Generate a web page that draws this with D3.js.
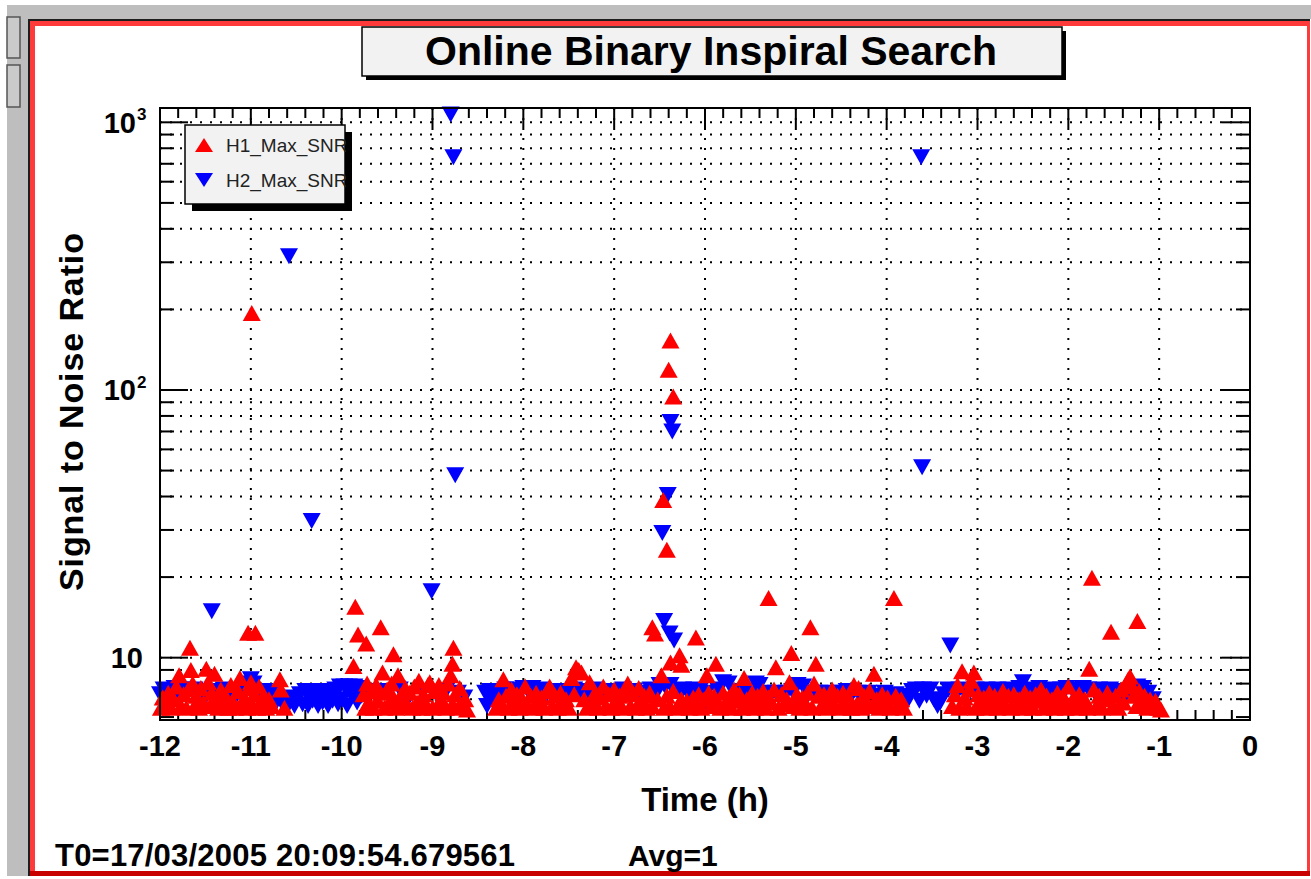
<!DOCTYPE html>
<html>
<head>
<meta charset="utf-8">
<script src="https://d3js.org/d3.v7.min.js"></script>
<style>
body { margin: 0; background: #fff; }
text { font-family: "Liberation Sans", Arial, Helvetica, sans-serif; }
</style>
</head>
<body>
<div id="chart"></div>
<script>
/* globals d3: false */

var W = 1311, H = 879;

// axis ticks and labels
var xTicks = [-12, -11, -10, -9, -8, -7, -6, -5, -4, -3, -2, -1, 0];
var yMajor = [10, 100, 1000];
var yExp = ["", "2", "3"];

var titleText = "Online Binary Inspiral Search";
var xTitle = "Time (h)";
var yTitle = "Signal to Noise Ratio";
var t0Text = "T0=17/03/2005 20:09:54.679561";
var avgText = "Avg=1";
var seriesNames = ["H1_Max_SNR", "H2_Max_SNR"];

// H1 (red, up triangles): isolated high points
var h1Peaks = [[-10.99,194],[-11.03,12.4],[-10.95,12.4],[-11.67,10.9],[-9.85,15.5],[-9.82,12.2],
	[-9.73,11.3],[-9.87,9.3],[-9.57,13.0],[-9.43,10.3],[-8.77,10.9],[-8.78,9.5],[-6.38,153],
	[-6.40,119],[-6.35,94.5],[-6.46,38.8],[-6.42,25.3],[-6.58,13.0],[-6.55,12.3],[-6.10,11.9],
	[-6.38,9.6],[-6.28,10.2],[-6.26,9.4],[-5.30,16.7],[-5.22,9.2],[-5.05,10.4],[-4.84,13.0],
	[-4.78,9.5],[-4.14,8.7],[-3.92,16.7],[-1.74,19.9],[-1.77,9.1],[-1.53,12.5],[-1.24,13.7]];

// H1 dense band near the floor
var h1Band = [
	[-11.99,6.5],[-11.97,7.1],[-11.94,6.7],[-11.91,7.4],[-11.88,6.5],[-11.85,7.0],[-11.82,7.8],[-11.79,8.6],
	[-11.77,6.6],[-11.74,7.3],[-11.71,6.5],[-11.69,7.6],[-11.66,9.0],[-11.64,8.0],[-11.62,6.6],[-11.60,7.2],
	[-11.57,6.5],[-11.55,7.7],[-11.52,6.8],[-11.49,9.1],[-11.47,8.1],[-11.45,6.6],[-11.43,7.4],[-11.40,8.7],
	[-11.38,7.0],[-11.36,6.5],[-11.33,7.6],[-11.30,6.6],[-11.28,7.2],[-11.25,6.5],[-11.22,7.9],[-11.20,6.9],
	[-11.17,6.5],[-11.14,7.5],[-11.12,8.4],[-11.10,6.6],[-11.07,7.1],[-11.04,6.5],[-11.02,7.7],[-11.00,8.1],
	[-10.98,6.6],[-10.96,7.3],[-10.93,6.5],[-10.91,7.8],[-10.88,6.7],[-10.86,7.2],[-10.83,6.5],[-10.80,7.0],
	[-10.77,6.6],[-10.68,8.3],[-10.67,7.6],[-10.63,6.5],
	[-9.76,7.3],[-9.74,6.5],[-9.72,8.0],[-9.70,6.8],[-9.67,7.5],[-9.65,6.5],[-9.62,7.9],[-9.60,6.9],
	[-9.57,7.4],[-9.55,8.8],[-9.53,6.5],[-9.50,7.6],[-9.48,6.8],[-9.45,8.0],[-9.43,7.1],[-9.40,6.5],
	[-9.38,8.6],[-9.35,7.2],[-9.33,6.6],[-9.30,7.7],[-9.27,6.6],[-9.25,7.4],[-9.22,6.5],[-9.20,7.8],
	[-9.17,6.8],[-9.15,8.2],[-9.12,6.5],[-9.10,7.3],[-9.07,6.7],[-9.05,7.9],[-9.03,8.1],[-9.00,6.5],
	[-8.98,7.5],[-8.95,6.6],[-8.93,7.9],[-8.90,6.9],[-8.88,7.4],[-8.85,6.5],[-8.83,8.0],[-8.80,8.6],
	[-8.78,6.7],[-8.75,7.3],[-8.72,6.5],[-8.70,7.7],[-8.67,6.6],[-8.64,7.0],[-8.62,6.4],
	[-8.30,6.5],[-8.27,7.0],[-8.24,6.6],[-8.22,8.3],[-8.19,7.2],[-8.16,6.5],[-8.13,7.6],[-8.10,6.7],
	[-8.07,7.3],[-8.04,6.5],[-8.01,7.0],[-7.98,7.8],[-7.95,6.6],[-7.92,7.2],[-7.89,6.5],[-7.86,7.4],
	[-7.83,6.8],[-7.80,7.1],[-7.77,6.5],[-7.74,7.5],[-7.71,7.8],[-7.68,6.6],[-7.65,7.2],[-7.62,6.5],
	[-7.59,7.4],[-7.56,6.8],[-7.53,7.0],[-7.50,6.5],[-7.47,8.4],[-7.44,7.3],[-7.42,9.2],[-7.39,9.0],
	[-7.36,8.8],[-7.33,7.0],[-7.30,6.5],[-7.27,8.1],[-7.24,6.7],[-7.21,7.4],[-7.18,6.5],[-7.15,7.1],
	[-7.12,7.8],[-7.09,6.6],[-7.06,7.3],[-7.03,6.5],[-7.00,7.6],[-6.97,6.8],[-6.94,7.2],[-6.91,6.5],
	[-6.88,7.5],[-6.85,8.0],[-6.82,6.6],[-6.79,7.3],[-6.76,6.5],[-6.73,7.7],[-6.70,6.8],[-6.67,7.2],
	[-6.64,6.5],[-6.61,7.4],[-6.58,6.6],
	[-6.52,7.0],[-6.48,8.6],[-6.45,6.5],[-6.42,7.2],[-6.39,6.6],[-6.35,7.5],[-6.31,6.5],[-6.26,7.0],
	[-6.23,6.6],[-6.20,6.9],[-6.17,6.5],[-6.13,7.1],[-6.10,6.6],[-6.07,7.3],[-6.04,6.5],[-6.01,7.0],
	[-5.98,8.6],[-5.96,7.4],[-5.93,6.6],[-5.90,7.2],[-5.88,9.5],[-5.86,6.8],[-5.83,6.5],[-5.80,7.4],
	[-5.77,6.6],[-5.74,7.1],[-5.71,6.5],[-5.68,7.6],[-5.65,6.9],[-5.62,7.3],[-5.59,6.5],[-5.57,8.4],
	[-5.54,7.0],[-5.51,6.6],[-5.48,7.4],[-5.45,6.5],[-5.42,7.2],[-5.39,6.7],[-5.36,7.5],[-5.33,6.5],
	[-5.30,7.1],[-5.27,6.8],[-5.24,7.6],[-5.19,6.5],[-5.16,7.3],[-5.13,6.7],[-5.10,7.0],[-5.07,8.1],
	[-5.02,6.6],[-4.99,7.3],[-4.96,6.5],[-4.93,7.1],[-4.90,6.7],[-4.87,7.4],[-4.82,6.5],[-4.80,8.0],
	[-4.75,7.2],[-4.72,6.6],[-4.69,7.3],[-4.66,6.5],[-4.63,7.0],[-4.60,7.6],[-4.57,6.6],[-4.54,7.2],
	[-4.51,6.5],[-4.48,7.4],[-4.45,6.8],[-4.42,7.1],[-4.39,6.5],[-4.36,7.9],[-4.33,6.7],[-4.31,7.7],
	[-4.28,6.5],[-4.25,7.2],[-4.22,6.8],[-4.19,7.5],[-4.16,6.6],[-4.11,7.0],[-4.08,6.5],[-4.05,7.3],
	[-4.02,6.7],[-3.99,7.1],[-3.96,6.5],[-3.90,7.2],[-3.87,6.6],[-3.84,7.0],[-3.81,6.5],
	[-3.28,6.6],[-3.25,7.3],[-3.22,7.9],[-3.20,6.5],[-3.17,8.9],[-3.14,7.1],[-3.12,6.6],[-3.09,7.6],
	[-3.07,8.2],[-3.04,8.8],[-3.02,6.5],[-2.99,7.3],[-2.96,6.7],[-2.93,7.1],[-2.90,6.5],[-2.87,7.4],
	[-2.84,6.8],[-2.81,7.2],[-2.78,6.5],[-2.75,7.0],[-2.72,7.5],[-2.69,6.6],[-2.66,7.2],[-2.63,6.5],
	[-2.60,7.3],[-2.57,6.8],[-2.54,7.0],[-2.51,6.5],[-2.48,7.4],[-2.45,6.7],[-2.42,7.1],[-2.39,6.5],
	[-2.36,7.3],[-2.33,6.9],[-2.30,7.6],[-2.27,6.5],[-2.24,7.2],[-2.21,6.7],[-2.18,7.0],[-2.15,6.5],
	[-2.12,7.4],[-2.09,6.8],[-2.06,7.2],[-2.03,6.5],[-2.00,7.8],[-1.97,6.6],[-1.94,7.1],[-1.91,6.5],
	[-1.88,7.3],[-1.85,6.8],[-1.82,7.0],[-1.79,6.5],[-1.72,7.6],[-1.69,6.6],[-1.66,7.2],[-1.63,6.5],
	[-1.60,7.0],[-1.57,7.4],[-1.51,6.6],[-1.48,7.2],[-1.45,6.5],[-1.42,7.6],[-1.39,6.8],[-1.36,7.9],
	[-1.34,8.3],[-1.32,8.5],[-1.30,7.8],[-1.28,7.2],[-1.25,6.6],[-1.22,7.5],[-1.19,6.8],[-1.16,7.2],
	[-1.13,6.5],[-1.10,7.0],[-1.07,6.6],[-1.04,6.9],[-1.01,6.5],[-0.98,6.4]];

// H2 (blue, down triangles): isolated high points
var h2Peaks = [[-11.43,14.9],[-11.00,8.3],[-10.58,316],[-10.33,32.4],[-9.01,17.7],[-8.80,1070],
	[-8.77,741],[-8.75,48],[-6.47,29.2],[-6.41,40.5],[-6.38,76],[-6.36,70],[-6.45,13.7],
	[-6.39,12.3],[-6.34,11.6],[-3.62,741],[-3.61,51.5],[-3.30,11.1],[-2.50,8.1]];

// H2 dense band near the floor
var h2Band = [
	[-12.00,7.3],[-11.96,7.6],[-11.92,7.0],[-11.88,7.5],[-11.84,7.7],[-11.80,7.2],[-11.76,7.6],[-11.70,7.4],
	[-11.62,7.6],[-11.55,7.5],[-11.50,7.1],[-11.40,7.5],[-11.35,7.3],[-11.30,7.6],[-11.26,7.4],[-11.20,7.0],
	[-11.15,7.3],[-11.08,7.6],[-11.05,8.0],[-10.97,8.0],[-10.92,7.2],[-10.88,7.0],[-10.85,7.5],[-10.80,7.4],
	[-10.76,7.3],[-10.72,6.8],
	[-10.66,6.9],[-10.64,6.6],[-10.61,7.0],[-10.58,6.7],[-10.55,7.1],[-10.52,6.6],[-10.49,7.0],[-10.46,7.3],
	[-10.43,6.7],[-10.40,7.5],[-10.37,6.6],[-10.35,7.4],[-10.32,6.9],[-10.29,7.5],[-10.26,6.6],[-10.24,7.4],
	[-10.21,6.8],[-10.18,7.5],[-10.15,6.6],[-10.12,7.5],[-10.10,6.9],[-10.07,7.6],[-10.04,6.7],[-10.02,7.8],
	[-9.99,7.0],[-9.97,7.8],[-9.94,6.6],[-9.92,7.8],[-9.89,7.2],[-9.86,7.8],[-9.83,6.8],[-9.81,7.7],
	[-9.78,7.2],
	[-9.70,7.5],[-9.62,7.3],[-9.50,7.5],[-9.36,7.6],[-9.25,7.2],[-9.10,7.5],[-8.96,7.3],[-8.85,7.5],
	[-8.72,7.4],[-8.65,7.1],
	[-8.42,7.4],[-8.40,6.6],[-8.37,7.5],[-8.34,6.9],[-8.30,7.5],[-8.27,6.6],[-8.24,7.3],[-8.20,7.6],
	[-8.15,7.1],[-8.10,7.6],[-8.05,7.4],[-8.00,7.7],[-7.95,7.5],[-7.90,7.7],[-7.85,7.5],[-7.80,7.6],
	[-7.74,7.3],[-7.68,7.5],[-7.62,7.2],[-7.56,7.5],[-7.50,7.3],[-7.44,7.6],[-7.38,7.4],[-7.32,7.5],
	[-7.26,7.2],[-7.20,7.6],[-7.14,7.4],[-7.08,7.3],[-7.02,7.5],[-6.96,7.4],[-6.90,7.6],[-6.84,7.3],
	[-6.78,7.5],[-6.72,7.2],[-6.66,7.4],[-6.60,7.6],[-6.54,7.3],[-6.50,7.9],[-6.44,7.8],[-6.38,7.9],
	[-6.30,7.5],[-6.24,7.6],[-6.18,7.3],[-6.12,7.6],[-6.06,7.5],[-6.02,6.6],
	[-5.98,7.4],[-5.92,6.8],[-5.86,7.6],[-5.80,8.1],[-5.74,8.0],[-5.68,7.5],[-5.62,7.3],[-5.56,7.5],
	[-5.50,7.3],[-5.44,8.0],[-5.40,7.9],[-5.34,7.4],[-5.28,7.2],[-5.22,7.4],[-5.16,7.3],[-5.10,7.4],
	[-5.04,7.5],[-4.98,7.9],[-4.92,7.8],[-4.86,7.3],[-4.80,7.4],[-4.74,7.4],[-4.68,7.3],[-4.62,7.4],
	[-4.56,7.3],[-4.50,7.4],[-4.44,7.5],[-4.38,7.3],[-4.32,7.4],[-4.26,7.2],[-4.20,7.4],[-4.14,7.2],
	[-4.08,7.0],[-4.02,7.4],[-3.96,7.2],[-3.90,7.3],[-3.84,7.2],[-3.80,6.6],[-3.76,7.1],[-3.72,7.5],
	[-3.68,7.6],[-3.64,6.9],[-3.60,7.6],[-3.56,7.2],[-3.52,7.6],[-3.48,7.0],[-3.44,6.6],[-3.41,6.8],
	[-3.37,7.3],[-3.32,7.6],[-3.26,7.5],[-3.20,7.6],[-3.14,7.4],[-3.08,7.5],[-3.02,7.6],[-2.96,7.5],
	[-2.90,7.6],[-2.84,7.4],[-2.78,7.6],[-2.72,7.5],[-2.66,7.6],[-2.60,7.5],[-2.54,7.7],[-2.44,7.6],
	[-2.38,7.5],[-2.32,7.7],[-2.26,7.5],[-2.20,7.6],[-2.14,7.4],[-2.08,7.6],[-2.02,7.7],[-1.96,7.6],
	[-1.90,7.5],[-1.84,7.7],[-1.78,7.6],[-1.72,7.5],[-1.66,7.6],[-1.60,7.4],[-1.54,7.6],[-1.48,7.5],
	[-1.42,7.4],[-1.36,7.3],[-1.30,7.5],[-1.24,7.8],[-1.18,7.7],[-1.12,7.4],[-1.07,7.0]];

var red = "#ff0000", blue = "#0000ff";

var svg = d3.select("#chart").append("svg")
	.attr("width", W)
	.attr("height", H);

// window chrome around the canvas
svg.append("rect").attr("width", W).attr("height", H).attr("fill", "#fff");
svg.append("rect").attr("x", 7).attr("y", 5).attr("width", W - 7).attr("height", 871).attr("fill", "#bebebe");
[[17, 41], [65, 42]].forEach(function(b) {
	svg.append("rect").attr("x", 7).attr("y", b[0]).attr("width", 13).attr("height", b[1])
		.attr("fill", "#cacaca").attr("stroke", "#555").attr("stroke-width", 1.5);
});
svg.append("rect").attr("x", 28).attr("y", 19).attr("width", W - 28).attr("height", 857).attr("fill", "#1e1e1e");
svg.append("rect").attr("x", 30).attr("y", 21).attr("width", 1280).attr("height", 855).attr("fill", "#ff3a3a");
svg.append("rect").attr("x", 35).attr("y", 26).attr("width", 1272).attr("height", 845).attr("fill", "#fff");
svg.append("rect").attr("x", 30).attr("y", 871).attr("width", 1280).attr("height", 5).attr("fill", "#c80000");
svg.append("rect").attr("x", 1310).attr("y", 19).attr("width", 1).attr("height", 860).attr("fill", "#fff");

// scales
var x = d3.scaleLinear().domain([-12, 0]).range([160, 1250]);
var y = d3.scaleLog().domain([5.85, 1131]).range([720, 108]);
var x0 = 160, x1 = 1250, y0 = 720, y1 = 108;

var yAll = y.ticks();
var isMajor = function(v) { return yMajor.indexOf(v) >= 0; };
var xMinor = x.ticks(60).filter(function(v) { return Math.abs(v - Math.round(v)) > 1e-6; });

// dotted grid
var grid = svg.append("g")
	.attr("stroke", "#000")
	.attr("stroke-width", 2)
	.attr("stroke-dasharray", "2,8");
grid.selectAll(".gx")
	.data(xTicks.slice(1, -1))
	.enter().append("line")
	.attr("x1", function(d) { return x(d); }).attr("x2", function(d) { return x(d); })
	.attr("y1", y0).attr("y2", y1);
grid.selectAll(".gy")
	.data(yAll.filter(function(v) { return v >= 7; }))
	.enter().append("line")
	.attr("x1", x0).attr("x2", x1)
	.attr("y1", function(d) { return y(d); }).attr("y2", function(d) { return y(d); });

// ticks on all four sides
var ticks = svg.append("g").attr("stroke", "#000").attr("stroke-width", 2);
xTicks.forEach(function(t) {
	ticks.append("line").attr("x1", x(t)).attr("x2", x(t)).attr("y1", y0).attr("y2", y0 - 20);
	ticks.append("line").attr("x1", x(t)).attr("x2", x(t)).attr("y1", y1).attr("y2", y1 + 20);
});
xMinor.forEach(function(t) {
	ticks.append("line").attr("x1", x(t)).attr("x2", x(t)).attr("y1", y0).attr("y2", y0 - 10);
	ticks.append("line").attr("x1", x(t)).attr("x2", x(t)).attr("y1", y1).attr("y2", y1 + 10);
});
yAll.forEach(function(v) {
	var len = isMajor(v) ? 28 : 14;
	ticks.append("line").attr("x1", x0).attr("x2", x0 + len).attr("y1", y(v)).attr("y2", y(v));
	ticks.append("line").attr("x1", x1).attr("x2", x1 - len).attr("y1", y(v)).attr("y2", y(v));
});

// markers
function upTri(d) {
	var cx = x(d[0]), cy = y(d[1]);
	return "M" + (cx - 9) + "," + (cy + 8) + "L" + (cx + 9) + "," + (cy + 8) + "L" + cx + "," + (cy - 8) + "Z";
}
function downTri(d) {
	var cx = x(d[0]), cy = y(d[1]);
	return "M" + (cx - 9) + "," + (cy - 8) + "L" + (cx + 9) + "," + (cy - 8) + "L" + cx + "," + (cy + 8) + "Z";
}

svg.append("g").selectAll("path")
	.data(h2Band.concat(h2Peaks))
	.enter().append("path")
	.attr("d", downTri)
	.attr("fill", blue);

svg.append("g").selectAll("path")
	.data(h1Band.concat(h1Peaks))
	.enter().append("path")
	.attr("d", upTri)
	.attr("fill", red);

// frame
svg.append("rect")
	.attr("x", x0).attr("y", y1).attr("width", x1 - x0).attr("height", y0 - y1)
	.attr("fill", "none").attr("stroke", "#000").attr("stroke-width", 2);

// tick labels
svg.append("g").selectAll("text")
	.data(xTicks)
	.enter().append("text")
	.attr("x", function(d) { return x(d); })
	.attr("y", 756)
	.attr("text-anchor", "middle")
	.attr("font-size", 29)
	.attr("font-weight", "bold")
	.text(function(d) { return String(d); });

yMajor.forEach(function(v, i) {
	var t = svg.append("text")
		.attr("y", y(v) + 10.5)
		.attr("font-size", 29)
		.attr("font-weight", "bold")
		.attr("text-anchor", "end");
	if (yExp[i] === "") {
		t.attr("x", 143).text("10");
	} else {
		t.attr("x", 136).text("10");
		svg.append("text")
			.attr("x", 137).attr("y", y(v) - 2)
			.attr("font-size", 17)
			.attr("font-weight", "bold")
			.text(yExp[i]);
	}
});

// axis titles
svg.append("text")
	.attr("x", (x0 + x1) / 2).attr("y", 811)
	.attr("text-anchor", "middle")
	.attr("font-size", 33)
	.attr("font-weight", "bold")
	.text(xTitle);

svg.append("text")
	.attr("transform", "translate(83," + ((y0 + y1) / 2 - 2) + ") rotate(-90)")
	.attr("text-anchor", "middle")
	.attr("font-size", 34)
	.attr("font-weight", "bold")
	.attr("textLength", 358)
	.attr("lengthAdjust", "spacing")
	.text(yTitle);

// title box
svg.append("rect").attr("x", 366).attr("y", 31).attr("width", 700).attr("height", 49).attr("fill", "#000");
svg.append("rect").attr("x", 362).attr("y", 27).attr("width", 700).attr("height", 49)
	.attr("fill", "#f2f2f2").attr("stroke", "#000").attr("stroke-width", 1.5);
svg.append("text")
	.attr("x", 711).attr("y", 65)
	.attr("text-anchor", "middle")
	.attr("font-size", 41)
	.attr("font-weight", "bold")
	.text(titleText);

// legend
svg.append("rect").attr("x", 192).attr("y", 132).attr("width", 160).attr("height", 79).attr("fill", "#000");
svg.append("rect").attr("x", 185).attr("y", 125).attr("width", 160).attr("height", 79)
	.attr("fill", "#f2f2f2").attr("stroke", "#000").attr("stroke-width", 1.5);
var legendRows = [
	{name: seriesNames[0], color: red, cy: 145, up: true},
	{name: seriesNames[1], color: blue, cy: 180, up: false}
];
legendRows.forEach(function(r) {
	var cx = 204, cy = r.cy;
	var d = r.up ?
		"M" + (cx - 9) + "," + (cy + 7) + "L" + (cx + 9) + "," + (cy + 7) + "L" + cx + "," + (cy - 7) + "Z" :
		"M" + (cx - 9) + "," + (cy - 7) + "L" + (cx + 9) + "," + (cy - 7) + "L" + cx + "," + (cy + 7) + "Z";
	svg.append("path").attr("d", d).attr("fill", r.color);
	svg.append("text")
		.attr("x", 226).attr("y", cy + 7)
		.attr("font-size", 19)
		.attr("fill", "#222")
		.text(r.name);
});
// shadow strip covers the text end, as in the original
svg.append("rect").attr("x", 346).attr("y", 138).attr("width", 6).attr("height", 73).attr("fill", "#000");

// footer texts
svg.append("text")
	.attr("x", 55).attr("y", 866)
	.attr("font-size", 31)
	.attr("font-weight", "bold")
	.attr("textLength", 460)
	.attr("lengthAdjust", "spacing")
	.text(t0Text);
svg.append("text")
	.attr("x", 628).attr("y", 866)
	.attr("font-size", 30)
	.attr("font-weight", "bold")
	.text(avgText);
</script>
</body>
</html>
